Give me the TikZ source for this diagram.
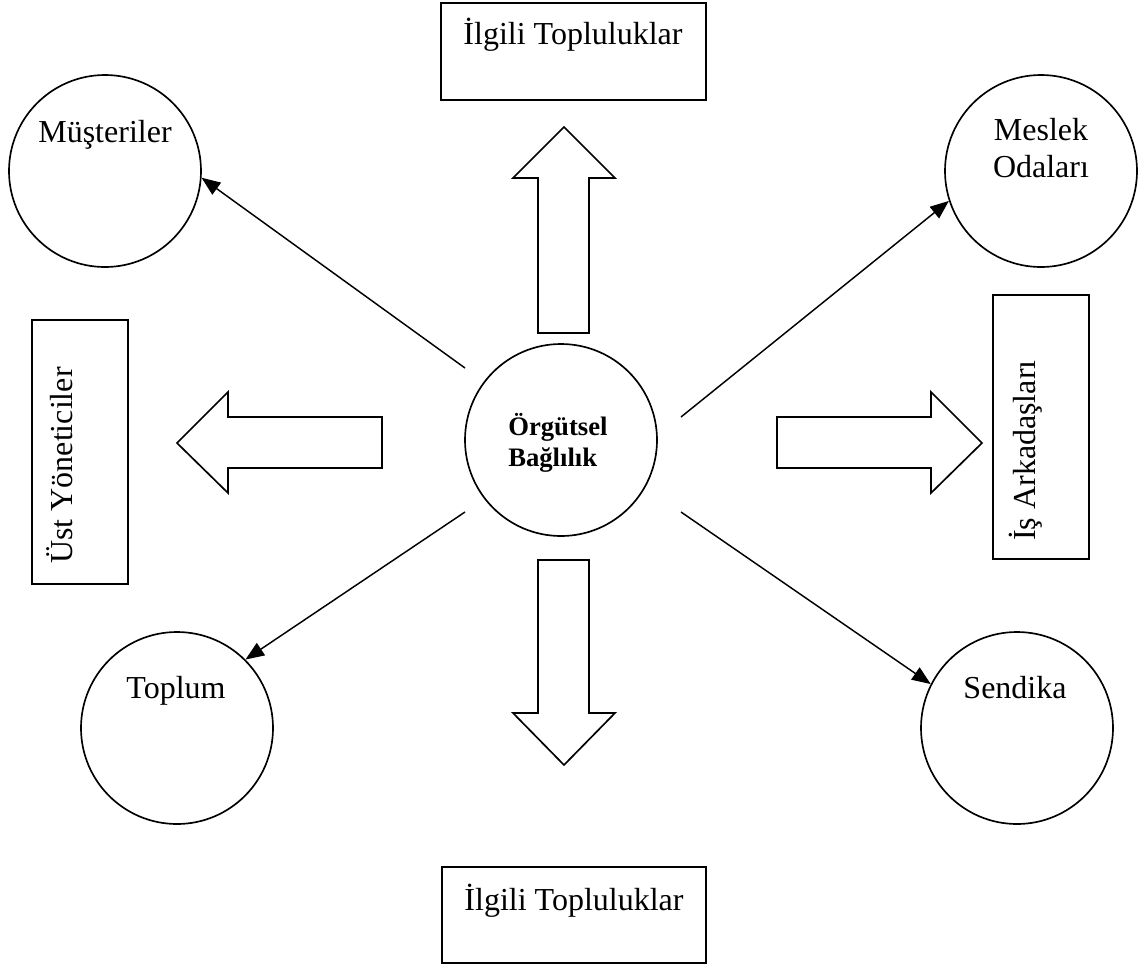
\documentclass[tikz,border=0pt]{standalone}
\usepackage{fontspec}
\setmainfont{Liberation Serif}
\usetikzlibrary{arrows.meta}
\tikzset{
  circ/.style={draw, circle, line width=1.25pt, minimum size=144pt, inner sep=0pt},
  boxnode/.style={draw, rectangle, line width=1.3pt, inner sep=0pt},
  lbl/.style={inner sep=0pt, font=\fontsize{24}{29}\selectfont},
  blbl/.style={inner sep=0pt, font=\fontsize{20}{24}\selectfont\bfseries},
  conn/.style={line width=1.1pt, -{Triangle[length=14pt,width=11pt]}},
  blockarrow/.style={draw, line width=1.25pt, line join=miter}
}
\begin{document}
\begin{tikzpicture}[x=0.75pt, y=-0.75pt]
\useasboundingbox (0,0) rectangle (1143,965);

% boxes
\node[boxnode, minimum width=198.75pt, minimum height=72.75pt] (topbox) at (573.5,51.5) {};
\node[lbl, anchor=base] (toptxt) at (573,44) {İlgili Topluluklar};
\node[boxnode, minimum width=198pt, minimum height=72pt] (botbox) at (574,915) {};
\node[lbl, anchor=base] (bottxt) at (574,910) {İlgili Topluluklar};
\node[boxnode, minimum width=72pt, minimum height=198pt] (ustbox) at (80,452) {};
\node[lbl, anchor=base west, rotate=90] (usttxt) at (72,564) {Üst Yöneticiler};
\node[boxnode, minimum width=72pt, minimum height=198pt] (isbox) at (1041,427) {};
\node[lbl, anchor=base west, rotate=90] (istxt) at (1035,541) {İş Arkadaşları};

% circles
\node[circ] (org) at (561,440) {};
\node[blbl, anchor=base west] (orgA) at (508,435) {Örgütsel};
\node[blbl, anchor=base west] (orgB) at (508,466) {Bağlılık};

\node[circ] (mus) at (105,171) {};
\node[lbl, anchor=base] (mustxt) at (105,142) {Müşteriler};

\node[circ] (mes) at (1041,171) {};
\node[lbl, anchor=base] (mesA) at (1041,140) {Meslek};
\node[lbl, anchor=base] (mesB) at (1041,177) {Odaları};

\node[circ] (topl) at (177,728) {};
\node[lbl, anchor=base] (topltxt) at (176,698) {Toplum};

\node[circ] (sen) at (1017,728) {};
\node[lbl, anchor=base] (sentxt) at (1015,698) {Sendika};

% connector start points
\coordinate (s1) at (465,368);
\coordinate (s2) at (465,512);
\coordinate (s3) at (681,417);
\coordinate (s4) at (681,512);

\draw[conn] (s1) -- (mus.-4);
\draw[conn] (s2) -- (topl.45);
\draw[conn] (s3) -- (mes.198);
\draw[conn] (s4) -- (sen.153);

% block arrows
\draw[blockarrow] (538,333) -- (538,178) -- (513,178) -- (564,127) -- (615,178) -- (589,178) -- (589,333) -- cycle;
\draw[blockarrow] (538,560) -- (538,713) -- (513,713) -- (564,765) -- (615,713) -- (589,713) -- (589,560) -- cycle;
\draw[blockarrow] (382,417) -- (228,417) -- (228,392) -- (177,443) -- (228,493) -- (228,468) -- (382,468) -- cycle;
\draw[blockarrow] (777,417) -- (931,417) -- (931,392) -- (982,443) -- (931,493) -- (931,468) -- (777,468) -- cycle;
\end{tikzpicture}
\end{document}
